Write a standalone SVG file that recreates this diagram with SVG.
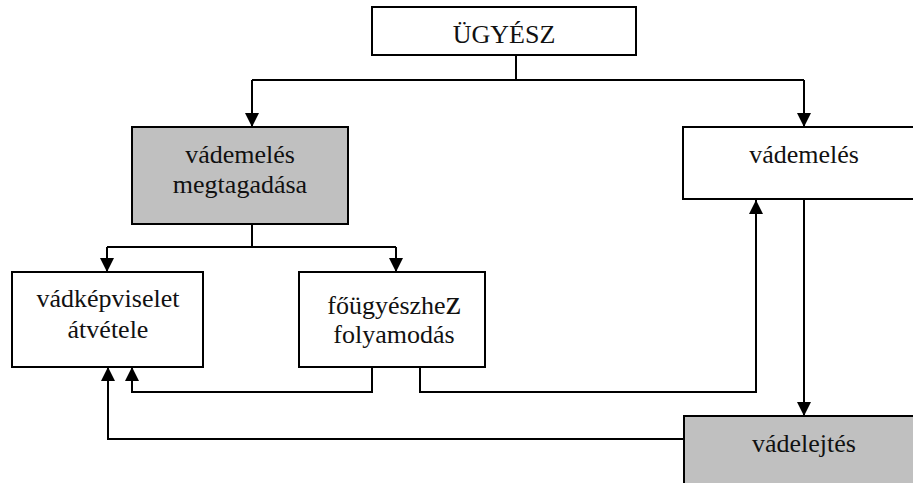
<svg xmlns="http://www.w3.org/2000/svg" width="913" height="483" viewBox="0 0 913 483">
  <style>
    .box { fill: #ffffff; stroke: #000000; stroke-width: 2; }
    .shaded { fill: #c0c0c0; }
    .wire { fill: none; stroke: #000000; stroke-width: 2; }
    .arrow { marker-end: url(#head); }
  </style>
  <defs>
    <marker id="head" markerUnits="userSpaceOnUse" markerWidth="16" markerHeight="16" viewBox="0 0 16 16" refX="15" refY="8" orient="auto">
      <path d="M1,1 L15,8 L1,15 Z" fill="#000000"/>
    </marker>
  </defs>

  <rect width="913" height="483" fill="#ffffff"/>

  <!-- connectors -->
  <g id="connectors">
    <path class="wire" d="M516,55 V80 M252,80 H804"/>
    <path class="wire arrow" d="M252,80 V127"/>
    <path class="wire arrow" d="M804,80 V127"/>
    <path class="wire" d="M252,224 V247 M107,247 H396"/>
    <path class="wire arrow" d="M107,247 V272"/>
    <path class="wire arrow" d="M396,247 V272"/>
    <path class="wire arrow" d="M372,367 V392 H132 V367"/>
    <path class="wire arrow" d="M420,367 V392 H756 V200"/>
    <path class="wire arrow" d="M804,200 V416"/>
    <path class="wire arrow" d="M684,439 H108 V367"/>
  </g>

  <!-- nodes -->
  <g font-family="'Liberation Serif', 'Times New Roman', serif" font-size="26" fill="#111111" text-anchor="middle">
    <g id="ugyesz">
      <rect class="box" x="372" y="7" width="264" height="48"/>
      <text x="504" y="43">ÜGYÉSZ</text>
    </g>

    <g id="vademeles-megtagadasa">
      <rect class="box shaded" x="132" y="127" width="216" height="97"/>
      <text x="240" y="163">vádemelés</text>
      <text x="240" y="193">megtagadása</text>
    </g>

    <g id="vademeles">
      <rect class="box" x="683" y="127" width="245" height="72"/>
      <text x="804" y="163">vádemelés</text>
    </g>

    <g id="vadkepviselet-atvetele">
      <rect class="box" x="12" y="272" width="191" height="95"/>
      <text x="108" y="307">vádképviselet</text>
      <text x="108" y="338">átvétele</text>
    </g>

    <g id="fougyeszhez-folyamodas">
      <rect class="box" x="299" y="272" width="186" height="95"/>
      <text x="394" y="314">főügyészhe<tspan font-size="34">z</tspan></text>
      <text x="394" y="343">folyamodás</text>
    </g>

    <g id="vadelejtes">
      <rect class="box shaded" x="684" y="416" width="245" height="80"/>
      <text x="804" y="452">vádelejtés</text>
    </g>
  </g>
</svg>
